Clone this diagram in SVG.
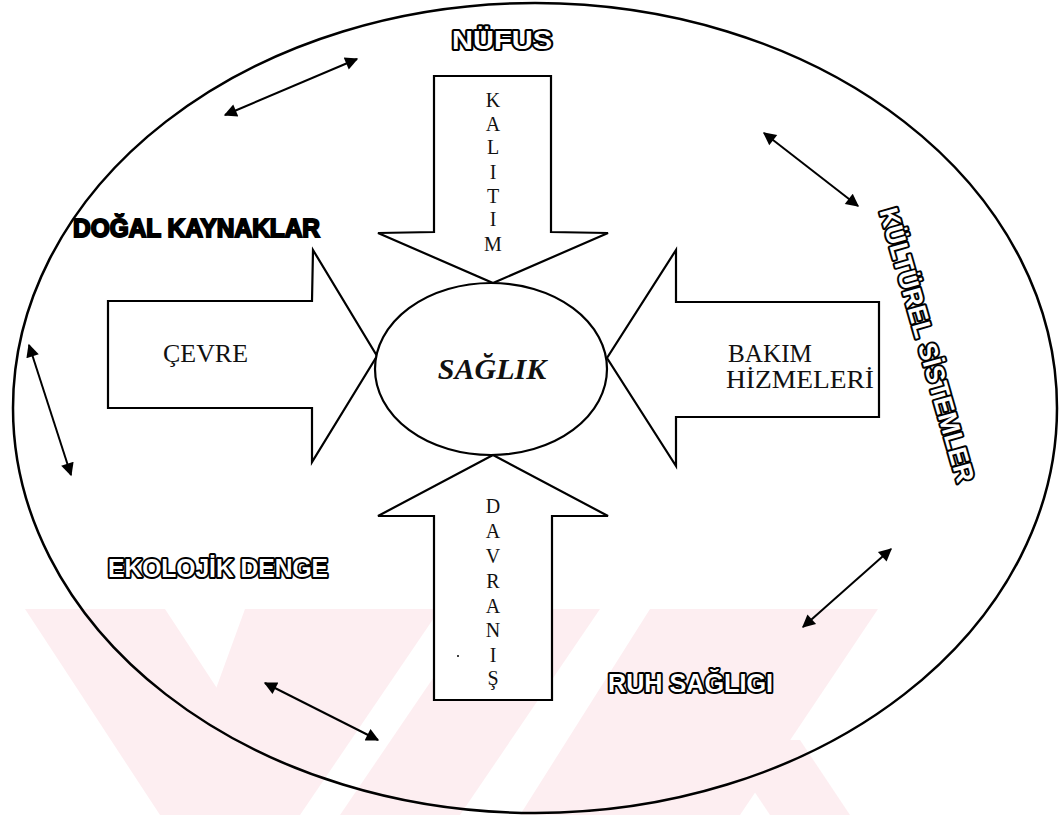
<svg xmlns="http://www.w3.org/2000/svg" width="1062" height="815" viewBox="0 0 1062 815">
<style>
.ln{fill:none;stroke:#000;stroke-width:2.5}
.shape{fill:#fff;stroke:#000;stroke-width:2.2;stroke-linejoin:miter}
.tm{font-family:"Liberation Serif",serif;fill:#111}
.v{font-family:"Liberation Serif",serif;font-size:20px;fill:#111;text-anchor:middle}
.hol{font-family:"Liberation Sans",Arial,sans-serif;font-weight:bold;font-size:26px;fill:#fff;stroke:#000;stroke-width:4;stroke-linejoin:round;paint-order:stroke}
.sol{font-family:"Liberation Sans",Arial,sans-serif;font-weight:bold;font-size:26px;fill:#000;stroke:#000;stroke-width:2}
.wm{fill:#fdeef1}
.con{stroke:#000;stroke-width:2;fill:none;marker-start:url(#ah);marker-end:url(#ah)}
</style>
<defs>
<marker id="ah" viewBox="0 0 10 10" refX="9" refY="5" markerWidth="17" markerHeight="13" orient="auto-start-reverse" markerUnits="userSpaceOnUse">
<path d="M0,0 L10,5 L0,10 z" fill="#000"/>
</marker>
</defs>
<rect width="1062" height="815" fill="#fff"/>
<g id="watermark">
<polygon class="wm" points="25,609 165,609 300,815 160,815"/>
<polygon class="wm" points="245,609 440,609 300,815 170,815"/>
<polygon class="wm" points="480,609 600,609 460,815 340,815"/>
<polygon class="wm" points="650,609 878,609 740,815 520,815"/>
<polygon class="wm" points="720,740 800,740 850,815 770,815"/>
</g>
<g id="outer">
<ellipse cx="535" cy="408" rx="522" ry="405" class="ln"/>
</g>
<g id="connectors">
<line class="con" x1="225" y1="115" x2="357" y2="59"/>
<line class="con" x1="764" y1="133" x2="858" y2="206"/>
<line class="con" x1="29" y1="345" x2="71" y2="475"/>
<line class="con" x1="891" y1="549" x2="803" y2="627"/>
<line class="con" x1="265" y1="683" x2="378" y2="740"/>
</g>
<g id="kalitim">
<polygon class="shape" points="434,76 551,76 551,232 608,233 493,283 378,233 434,232"/>
<g class="v">
<text x="493" y="107">K</text><text x="493" y="131">A</text><text x="493" y="154">L</text><text x="493" y="179">I</text><text x="493" y="203">T</text><text x="493" y="226">I</text><text x="493" y="251">M</text>
</g>
</g>
<g id="davranis">
<polygon class="shape" points="434,700 552,700 552,516 608,516 493,455 378,516 434,516"/>
<g class="v">
<text x="493" y="513">D</text><text x="493" y="538">A</text><text x="493" y="563">V</text><text x="493" y="588">R</text><text x="493" y="613">A</text><text x="493" y="637">N</text><text x="493" y="662">I</text><text x="493" y="685">Ş</text>
</g>
<circle cx="458" cy="656" r="1" fill="#000"/>
</g>
<g id="cevre">
<polygon class="shape" points="108,301 312,301 313,250 377,356 312,462 312,408 108,408"/>
<text class="tm" x="163" y="362" font-size="25" textLength="85" lengthAdjust="spacingAndGlyphs">ÇEVRE</text>
</g>
<g id="bakim">
<polygon class="shape" points="879,302 676,302 676,250 607,358 676,466 676,417 879,417"/>
<text class="tm" x="728" y="362" font-size="25" textLength="84" lengthAdjust="spacingAndGlyphs">BAKIM</text>
<text class="tm" x="726" y="388" font-size="25" textLength="148" lengthAdjust="spacingAndGlyphs">HİZMELERİ</text>
</g>
<g id="saglik">
<ellipse class="shape" cx="491" cy="369" rx="116" ry="86"/>
<text class="tm" x="492" y="379" font-size="30" font-weight="bold" font-style="italic" text-anchor="middle">SAĞLIK</text>
</g>
<g id="nufus"><text class="hol" x="452" y="49" textLength="100" lengthAdjust="spacingAndGlyphs">NÜFUS</text></g>
<g id="dogal"><text class="sol" x="73" y="237" textLength="247" lengthAdjust="spacingAndGlyphs">DOĞAL KAYNAKLAR</text></g>
<g id="ekolojik"><text class="hol" x="108" y="577" textLength="220" lengthAdjust="spacingAndGlyphs">EKOLOJİK DENGE</text></g>
<g id="ruh"><text class="hol" x="608" y="692" textLength="165" lengthAdjust="spacingAndGlyphs">RUH SAĞLIGI</text></g>
<g id="kulturel"><text class="hol" transform="translate(927,345) rotate(74)" x="0" y="9" text-anchor="middle" textLength="284" lengthAdjust="spacingAndGlyphs">KÜLTÜREL SİSTEMLER</text></g>
</svg>
